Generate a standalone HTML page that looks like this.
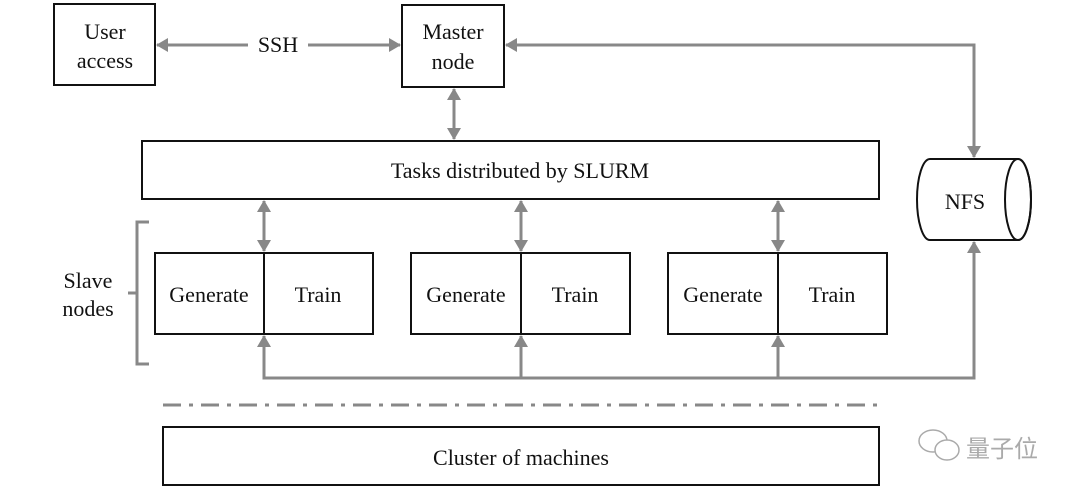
<!DOCTYPE html>
<html><head><meta charset="utf-8"><style>
html,body{margin:0;padding:0;background:#fff;}
svg text{font-family:"Liberation Serif",serif;font-size:22px;fill:#111;}
</style></head><body>
<svg width="1080" height="495" viewBox="0 0 1080 495" xmlns="http://www.w3.org/2000/svg">
<defs>
<marker id="a" markerWidth="12" markerHeight="14" refX="11" refY="7" orient="auto-start-reverse" markerUnits="userSpaceOnUse">
<path d="M0,0 L12,7 L0,14 z" fill="#888"/>
</marker>
</defs>
<g fill="none" stroke="#111" stroke-width="2">
<rect x="54" y="4" width="101" height="81"/>
<rect x="402" y="5" width="102" height="82"/>
<rect x="142" y="141" width="737" height="58"/>
<rect x="155" y="253" width="218" height="81"/><line x1="264" y1="253" x2="264" y2="334"/>
<rect x="411" y="253" width="219" height="81"/><line x1="521" y1="253" x2="521" y2="334"/>
<rect x="668" y="253" width="219" height="81"/><line x1="778" y1="253" x2="778" y2="334"/>
<rect x="163" y="427" width="716" height="58"/>
<path d="M930,159 L1018,159 A13,40.5 0 0 1 1018,240 L930,240 A13,40.5 0 0 1 930,159 Z"/>
<ellipse cx="1018" cy="199.5" rx="13" ry="40.5"/>
</g>
<g fill="none" stroke="#888" stroke-width="3">
<line x1="248" y1="45" x2="157" y2="45" marker-end="url(#a)"/>
<line x1="308" y1="45" x2="400" y2="45" marker-end="url(#a)"/>
<polyline points="506,45 974,45 974,157" marker-start="url(#a)" marker-end="url(#a)"/>
<line x1="454" y1="89" x2="454" y2="139" marker-start="url(#a)" marker-end="url(#a)"/>
<line x1="264" y1="201" x2="264" y2="251" marker-start="url(#a)" marker-end="url(#a)"/>
<line x1="521" y1="201" x2="521" y2="251" marker-start="url(#a)" marker-end="url(#a)"/>
<line x1="778" y1="201" x2="778" y2="251" marker-start="url(#a)" marker-end="url(#a)"/>
<polyline points="264,336 264,378 974,378 974,242" marker-start="url(#a)" marker-end="url(#a)"/>
<line x1="521" y1="378" x2="521" y2="336" marker-end="url(#a)"/>
<line x1="778" y1="378" x2="778" y2="336" marker-end="url(#a)"/>
<polyline points="149,222 137,222 137,364 149,364"/>
<line x1="128" y1="293" x2="137" y2="293"/>
<line x1="163" y1="405" x2="879" y2="405" stroke-dasharray="18,8,4,8"/>
</g>
<g text-anchor="middle">
<text x="105" y="39">User</text><text x="105" y="68">access</text>
<text x="278" y="52">SSH</text>
<text x="453" y="39">Master</text><text x="453" y="69">node</text>
<text x="520" y="178">Tasks distributed by SLURM</text>
<text x="209" y="302">Generate</text><text x="318" y="302">Train</text>
<text x="466" y="302">Generate</text><text x="575" y="302">Train</text>
<text x="723" y="302">Generate</text><text x="832" y="302">Train</text>
<text x="88" y="288">Slave</text><text x="88" y="316">nodes</text>
<text x="965" y="209">NFS</text>
<text x="521" y="465">Cluster of machines</text>
</g>
<g fill="none" stroke="#aaa" stroke-width="1.5">
<ellipse cx="933" cy="441" rx="14" ry="11"/>
<ellipse cx="947" cy="450" rx="12" ry="10" fill="#fff"/>
</g>
<text x="966" y="457" style="font-family:'Noto Sans CJK SC',sans-serif;font-size:24px;fill:#aaa">量子位</text>
</svg>
</body></html>
